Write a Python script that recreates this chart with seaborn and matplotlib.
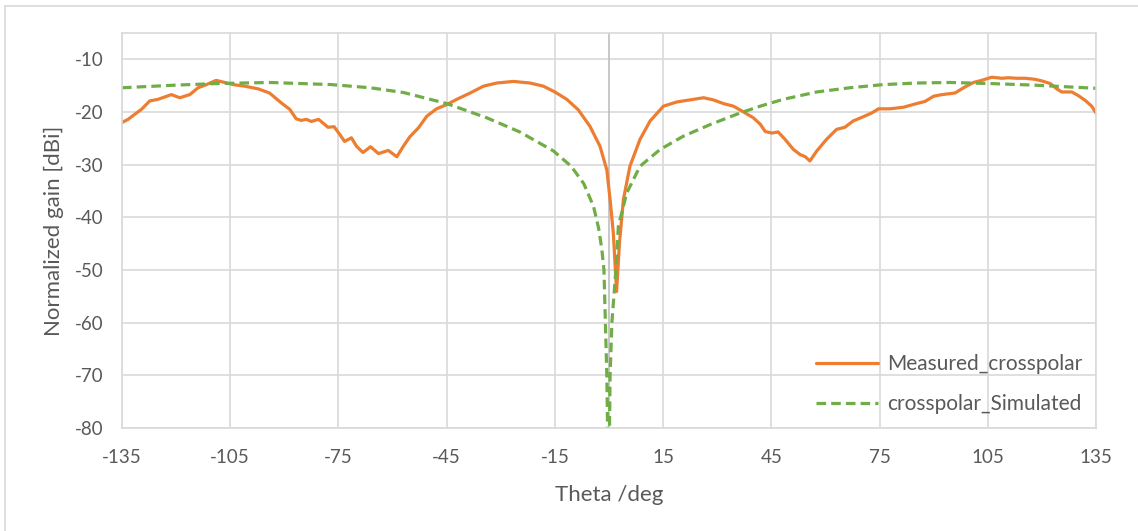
import matplotlib.pyplot as plt
import matplotlib.patches as patches
import pandas as pd
import seaborn as sns

# Measured cross-polar pattern
theta_meas = [-135, -133.3, -131, -129.6, -127.3, -125, -121.3, -119, -116.2, -113.9,
              -111.6, -108.9, -106.5, -104.2, -101, -97.3, -94.1, -90.8, -88.5, -86.7,
              -85.3, -83.9, -82.5, -80.5, -77.9, -76.2, -74.6, -73.3, -71.4, -70,
              -68.2, -66.1, -63.9, -61.2, -58.8, -57, -55.2, -52.8, -50.5, -47.8,
              -45, -42.2, -38.5, -34.8, -31.1, -26.5, -21.9, -18.2, -15, -11.7,
              -8.5, -5.3, -2.5, -0.6, 0.3, 1.2, 2.1, 2.9, 4.0, 5.8,
              8.6, 11.4, 15.1, 18.8, 22.5, 26.2, 28.9, 31.7, 34.5, 37.3,
              40.0, 41.9, 43.3, 45.1, 46.9, 48.8, 51.1, 53, 54.4, 55.7,
              57.6, 60.3, 63.1, 65.4, 67.7, 70.5, 72.8, 74.7, 77.9, 81.6,
              85.3, 87.6, 90, 92.3, 95.9, 98.3, 101, 103.3, 106.1, 108.9,
              110.7, 113, 115.4, 118.1, 120, 122.3, 124.1, 125.5, 128.3, 130.1,
              132, 133.8, 135]
gain_meas = [-22.0, -21.4, -20.2, -19.5, -17.9, -17.6, -16.7, -17.3, -16.7, -15.4,
             -14.8, -14.0, -14.4, -14.8, -15.1, -15.6, -16.4, -18.3, -19.5, -21.3,
             -21.6, -21.4, -21.8, -21.4, -22.9, -22.8, -24.3, -25.6, -24.9, -26.5,
             -27.7, -26.6, -27.9, -27.3, -28.5, -26.5, -24.7, -23.0, -20.8, -19.4,
             -18.6, -17.6, -16.4, -15.1, -14.5, -14.2, -14.5, -15.1, -16.2, -17.6,
             -19.6, -22.7, -26.5, -31.0, -36.6, -43.0, -54.1, -44.9, -36.6, -30.3,
             -25.2, -21.7, -18.9, -18.1, -17.7, -17.3, -17.7, -18.4, -18.9, -20.0,
             -21.1, -22.3, -23.7, -24.0, -23.8, -25.2, -27.1, -28.1, -28.5, -29.3,
             -27.4, -25.2, -23.3, -22.9, -21.7, -20.9, -20.2, -19.4, -19.4, -19.1,
             -18.4, -18.0, -17.0, -16.7, -16.4, -15.4, -14.4, -14.0, -13.4, -13.6,
             -13.5, -13.6, -13.6, -13.8, -14.1, -14.6, -15.6, -16.2, -16.2, -16.9,
             -17.8, -18.9, -20.2]

# Simulated cross-polar pattern
theta_sim = [-135, -120, -108.6, -94, -77, -66.2, -57, -45, -33.9, -24.7,
             -15.4, -10.5, -7.0, -4.3, -2.9, -2.0, -1.4, -1.0, -0.6, -0.1, 0.3,
             0.8, 1.9, 2.6, 4.9, 8.6, 14.2, 20.6, 28, 36.3, 41.9,
             48.3, 57.6, 66.8, 76.1, 85.3, 94.6, 105.7, 117.7, 135]
gain_sim = [-15.4, -14.9, -14.6, -14.4, -14.8, -15.4, -16.3, -18.4, -21.1, -23.8,
            -27.4, -30.3, -33.6, -37.9, -42.0, -46.0, -50.0, -60.0, -70.0, -95.0, -70.0,
            -60.0, -50.0, -41.7, -35.4, -30.3, -27.1, -24.6, -22.4, -20.2, -18.9,
            -17.6, -16.2, -15.4, -14.8, -14.5, -14.4, -14.6, -14.9, -15.5]

x_ticks = list(range(-135, 136, 30))
y_ticks = list(range(-80, -9, 10))

df_meas = pd.DataFrame({"theta": theta_meas, "gain": gain_meas})
df_sim = pd.DataFrame({"theta": theta_sim, "gain": gain_sim})

sns.set_style("white")
plt.rcParams['font.family'] = ['Lato', 'DejaVu Sans']
plt.rcParams['axes.unicode_minus'] = False

fig = plt.figure(figsize=(11.38, 5.31), dpi=100)
ax = fig.add_axes([0.1072, 0.194, 0.8559, 0.7439])

grid_c = "#d9d9d9"
text_c = "#595959"

sns.lineplot(data=df_meas, x="theta", y="gain", ax=ax, color="#ed7d31",
             linewidth=2.3, label="Measured_crosspolar", sort=False)
sns.lineplot(data=df_sim, x="theta", y="gain", ax=ax, color="#70ad47",
             linewidth=2.3, linestyle=(0, (3, 1.6)), label="crosspolar_Simulated", sort=False)

ax.set_xlim(-135, 135)
ax.set_ylim(-80, -5)
ax.set_xticks(x_ticks)
ax.set_yticks(y_ticks)
ax.grid(True, color=grid_c, linewidth=1.2)
ax.set_axisbelow(True)
ax.axvline(0, color="#bfbfbf", linewidth=1.2, zorder=1)
for s in ax.spines.values():
    s.set_color(grid_c)
    s.set_linewidth(1.2)

ax.tick_params(axis="both", length=0, labelsize=13.5, labelcolor=text_c)
ax.tick_params(axis="x", pad=15)
ax.tick_params(axis="y", pad=13)
ax.set_xlabel("Theta /deg", fontsize=16, color=text_c, labelpad=14)
ax.set_ylabel("Normalized gain [dBi]", fontsize=16, color=text_c, labelpad=8)

leg = ax.legend(loc="lower right", bbox_to_anchor=(0.996, 0.012), frameon=False,
                fontsize=15, handlelength=3.0, labelspacing=0.95, handletextpad=0.45,
                borderaxespad=0.05)
for t in leg.get_texts():
    t.set_color(text_c)

border = patches.Rectangle((0.0045, -0.02), 1.0, 1.009, transform=fig.transFigure,
                           fill=False, edgecolor=grid_c, linewidth=1.2)
fig.patches.append(border)

fig.savefig("out.png", dpi=100)
